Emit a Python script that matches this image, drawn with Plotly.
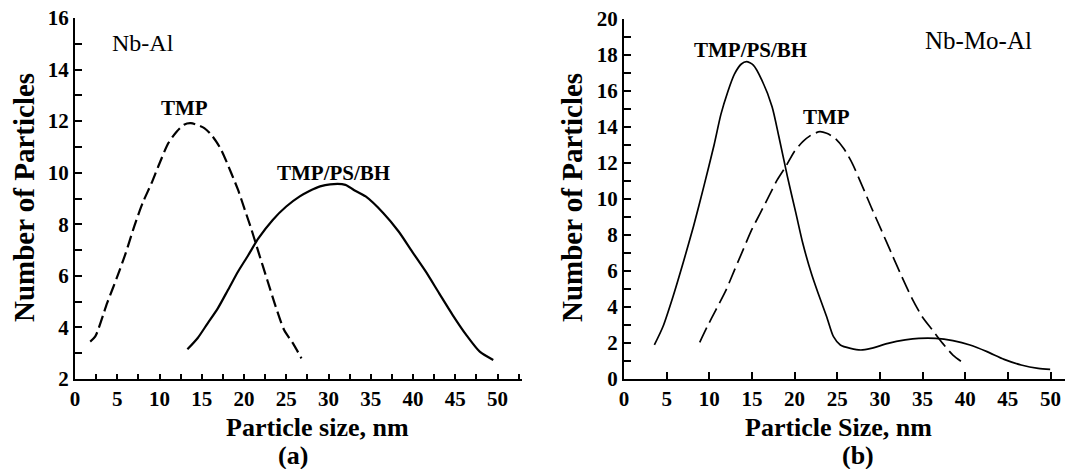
import plotly.graph_objects as go

# ---- Panel (a): Nb-Al ----
a_tmp_x = [1.8, 2.4, 3.8, 5.0, 6.0, 7.0, 8.0, 9.05, 9.85, 11.05, 12.05, 12.9, 13.7, 15.3,
           16.3, 17.3, 18.5, 19.3, 20.1, 20.9, 21.75, 22.75, 23.75, 24.75, 25.8, 26.8]
a_tmp_y = [3.45, 3.65, 4.94, 5.97, 6.88, 7.91, 8.82, 9.59, 10.24, 11.15, 11.6, 11.86, 11.92,
           11.73, 11.4, 10.89, 9.98, 9.33, 8.56, 7.78, 6.88, 5.84, 4.81, 3.9, 3.38, 2.8]

a_bh_x = [13.3, 14.5, 15.7, 16.9, 18.1, 19.3, 20.5, 21.7, 23.4, 25.0, 26.6, 27.8, 29.0,
          30.2, 32.0, 33.0, 34.4, 36.5, 38.3, 39.9, 41.5, 43.1, 44.7, 46.3, 47.9, 49.5]
a_bh_y = [3.15, 3.58, 4.16, 4.74, 5.45, 6.17, 6.8, 7.45, 8.17, 8.69, 9.08, 9.3, 9.47,
          9.55, 9.53, 9.33, 9.08, 8.43, 7.72, 6.94, 6.17, 5.32, 4.48, 3.71, 3.06, 2.74]

# ---- Panel (b): Nb-Mo-Al ----
b_bh_x = [3.56, 4.56, 5.76, 6.96, 8.16, 9.36, 10.56, 11.36, 12.16, 12.96, 13.76, 14.36, 15.16,
          16.16, 17.36, 18.16, 19.16, 20.16, 20.96, 21.96, 22.76, 23.76, 24.56, 25.36, 26.56,
          27.76, 28.96, 30.96, 32.96, 34.56, 36.56, 38.56, 40.56, 42.56, 44.56, 46.56, 48.56, 49.96]
b_bh_y = [1.89, 2.9, 4.6, 6.5, 8.5, 10.7, 13.0, 14.7, 15.95, 16.95, 17.5, 17.63, 17.44,
          16.61, 15.13, 13.46, 11.24, 9.2, 7.54, 5.87, 4.76, 3.46, 2.35, 1.89, 1.7,
          1.61, 1.7, 1.98, 2.17, 2.26, 2.26, 2.13, 1.89, 1.52, 1.09, 0.78, 0.59, 0.54]

b_tmp_x = [8.88, 9.76, 10.76, 11.96, 12.96, 13.96, 14.96, 15.96, 16.96, 17.96, 18.96, 19.96,
           20.96, 21.96, 22.96, 23.76, 24.76, 25.76, 26.76, 27.96, 28.96, 30.16, 31.36, 32.56,
           33.76, 34.96, 36.16, 37.36, 38.56, 39.96]
b_tmp_y = [2.04, 2.91, 3.83, 4.94, 6.06, 7.17, 8.28, 9.2, 10.13, 11.06, 11.8, 12.63,
           13.19, 13.56, 13.74, 13.65, 13.37, 12.81, 11.98, 10.69, 9.57, 8.28, 6.98, 5.69,
           4.48, 3.46, 2.72, 1.98, 1.33, 0.83]

x_ticks = [0, 5, 10, 15, 20, 25, 30, 35, 40, 45, 50]
a_y_ticks = [2, 4, 6, 8, 10, 12, 14, 16]
b_y_ticks = [0, 2, 4, 6, 8, 10, 12, 14, 16, 18, 20]

W, H = 1065, 470
SERIF = "Liberation Serif, Times New Roman, serif"


def px(x):
    return x / W


def py(y):
    return 1 - y / H


fig = go.Figure()
fig.add_trace(go.Scatter(x=a_tmp_x, y=a_tmp_y, mode="lines", xaxis="x", yaxis="y",
                         line=dict(color="black", width=2.2, dash="12px,5px",
                                   shape="spline", smoothing=0.7)))
fig.add_trace(go.Scatter(x=a_bh_x, y=a_bh_y, mode="lines", xaxis="x", yaxis="y",
                         line=dict(color="black", width=2.2, shape="spline", smoothing=0.7)))
fig.add_trace(go.Scatter(x=b_bh_x, y=b_bh_y, mode="lines", xaxis="x2", yaxis="y2",
                         line=dict(color="black", width=1.7, shape="spline", smoothing=0.7)))
fig.add_trace(go.Scatter(x=b_tmp_x, y=b_tmp_y, mode="lines", xaxis="x2", yaxis="y2",
                         line=dict(color="black", width=1.7, dash="16px,6px",
                                   shape="spline", smoothing=0.7)))

tickfont = dict(family=SERIF, size=21, color="black", weight="bold")
common = dict(showline=True, linecolor="black", linewidth=2, showgrid=False,
              zeroline=False, ticks="inside", tickcolor="black", tickwidth=1.5,
              tickfont=tickfont, mirror=False, automargin=False)

fig.update_layout(
    template="none",
    width=W, height=H,
    margin=dict(l=0, r=0, t=0, b=0, pad=0),
    paper_bgcolor="white", plot_bgcolor="white",
    showlegend=False,
    xaxis=dict(domain=[px(75), px(522)], range=[0, 52.9], anchor="y",
               tickvals=x_ticks, ticklen=5,
               minor=dict(dtick=2.5, tick0=0, ticks="inside", ticklen=5,
                          tickcolor="black", tickwidth=1.5),
               **common),
    yaxis=dict(domain=[py(379), py(18)], range=[2, 16], anchor="x",
               tickvals=a_y_ticks, ticklen=7,
               minor=dict(dtick=1, tick0=0, ticks="inside", ticklen=7,
                          tickcolor="black", tickwidth=1.5),
               **common),
    xaxis2=dict(domain=[px(624), px(1065)], range=[0, 51.7], anchor="y2",
                tickvals=x_ticks, ticklen=7, **common),
    yaxis2=dict(domain=[py(379), py(19)], range=[0, 20], anchor="x2",
                tickvals=b_y_ticks, ticklen=7,
                minor=dict(dtick=1, tick0=0, ticks="inside", ticklen=7,
                           tickcolor="black", tickwidth=1.5),
                **common),
)

bold = lambda s: dict(family=SERIF, size=s, color="black", weight="bold")
plain = lambda s: dict(family=SERIF, size=s, color="black")

annotations = [
    # axis titles
    dict(text="Number of Particles", x=px(24), y=py(198), textangle=-90, font=bold(29)),
    dict(text="Particle size, nm", x=px(317), y=py(427), font=bold(26)),
    dict(text="Number of Particles", x=px(572), y=py(198), textangle=-90, font=bold(29)),
    dict(text="Particle Size, nm", x=px(838), y=py(427), font=bold(26)),
    # sample names
    dict(text="Nb-Al", x=px(143), y=py(43), font=plain(24)),
    dict(text="Nb-Mo-Al", x=px(978), y=py(41), font=plain(25)),
]
for a in annotations:
    a.update(xref="paper", yref="paper", showarrow=False,
             xanchor="center", yanchor="middle")

# panel captions sitting on the bottom edge of the figure
captions = [
    dict(text="(a)", x=px(293)),
    dict(text="(b)", x=px(858)),
]
for a in captions:
    a.update(y=0, xref="paper", yref="paper", showarrow=False, xanchor="center",
             yanchor="bottom", height=27, valign="middle", borderpad=0, font=bold(26))

# curve labels in data coordinates
curve_labels = [
    dict(text="TMP", x=12.9, y=12.5, xref="x", yref="y"),
    dict(text="TMP/PS/BH", x=30.6, y=10.0, xref="x", yref="y"),
    dict(text="TMP/PS/BH", x=14.8, y=18.3, xref="x2", yref="y2"),
    dict(text="TMP", x=23.7, y=14.55, xref="x2", yref="y2"),
]
for a in curve_labels:
    a.update(showarrow=False, font=bold(21), xanchor="center", yanchor="middle")

fig.update_layout(annotations=annotations + captions + curve_labels)

fig.write_html("out.html")
